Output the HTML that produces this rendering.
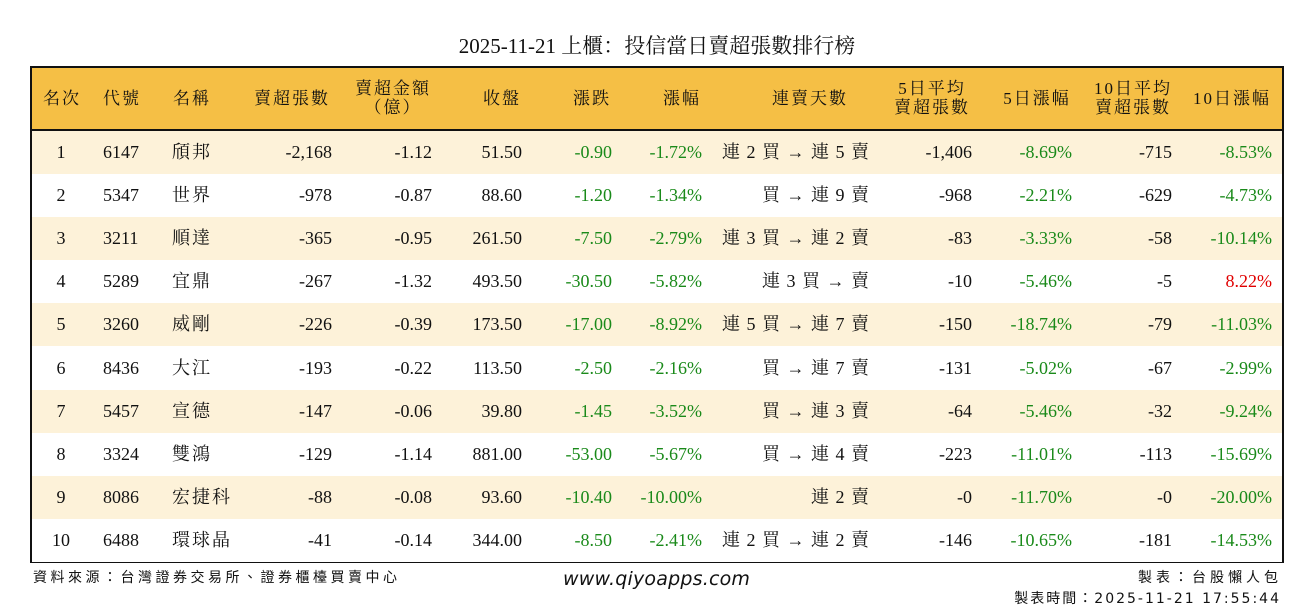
<!DOCTYPE html>
<html><head><meta charset="utf-8"><style>
body{margin:0;width:1314px;height:612px;background:#fff;position:relative;overflow:hidden;font-family:"Liberation Serif","Noto Serif CJK SC","Noto Serif CJK TC",serif;color:#111}
.t{position:absolute;white-space:nowrap}
#title{left:0;width:1314px;top:30px;text-align:center;font-size:21px}
#tbl{position:absolute;left:30px;top:66px;width:1250px;height:493px;border:2px solid #111}
#hdr{position:absolute;left:0;top:0;width:1250px;height:61px;background:#f5bf45;border-bottom:2px solid #111}
.row{position:absolute;left:0;width:1250px;height:43.1px}
.c{position:absolute;font-size:18px;line-height:43px;white-space:nowrap}
.h{position:absolute;font-size:17px;line-height:19px;white-space:nowrap;text-align:center;letter-spacing:2px}
.g{color:#1a8a1a}.r{color:#e00000}
.foot{position:absolute;font-family:"DejaVu Sans","Noto Sans CJK TC",sans-serif;font-size:14px;letter-spacing:3.5px}
</style></head><body>
<div class="t" id="title">2025-11-21 上櫃：投信當日賣超張數排行榜</div>
<div id="tbl">
<div id="hdr"></div>
</div>
<div class="foot" style="left:33px;top:567px">資料來源：台灣證券交易所、證券櫃檯買賣中心</div>
<div class="foot" style="left:563px;top:568px;font-size:19px;font-style:italic;letter-spacing:0.2px">www.qiyoapps.com</div>
<div class="foot" style="right:32px;top:567px;letter-spacing:4px">製表：台股懶人包</div>
<div class="foot" style="right:33px;top:588px;letter-spacing:2px">製表時間：2025-11-21 17:55:44</div>
<script>
const H=[["名次",62],["代號",122],["名稱",192],["賣超張數",292],["賣超金額<br>（億）",393],["收盤",502],["漲跌",592],["漲幅",682],["連賣天數",810],["5日平均<br>賣超張數",932],["5日漲幅",1037],["10日平均<br>賣超張數",1133],["10日漲幅",1232]];
const hdr=document.getElementById('hdr');
H.forEach(h=>{const d=document.createElement('div');d.className='h';d.innerHTML=h[0];d.style.left=(h[1]-32-70)+'px';d.style.width='140px';d.style.top=h[0].includes('<br>')?'11px':'21px';hdr.appendChild(d);});
const D=[
[1,6147,"頎邦","-2,168","-1.12","51.50","-0.90","-1.72%","連 2 買 → 連 5 賣","-1,406","-8.69%","-715","-8.53%"],
[2,5347,"世界","-978","-0.87","88.60","-1.20","-1.34%","買 → 連 9 賣","-968","-2.21%","-629","-4.73%"],
[3,3211,"順達","-365","-0.95","261.50","-7.50","-2.79%","連 3 買 → 連 2 賣","-83","-3.33%","-58","-10.14%"],
[4,5289,"宜鼎","-267","-1.32","493.50","-30.50","-5.82%","連 3 買 → 賣","-10","-5.46%","-5","8.22%"],
[5,3260,"威剛","-226","-0.39","173.50","-17.00","-8.92%","連 5 買 → 連 7 賣","-150","-18.74%","-79","-11.03%"],
[6,8436,"大江","-193","-0.22","113.50","-2.50","-2.16%","買 → 連 7 賣","-131","-5.02%","-67","-2.99%"],
[7,5457,"宣德","-147","-0.06","39.80","-1.45","-3.52%","買 → 連 3 賣","-64","-5.46%","-32","-9.24%"],
[8,3324,"雙鴻","-129","-1.14","881.00","-53.00","-5.67%","買 → 連 4 賣","-223","-11.01%","-113","-15.69%"],
[9,8086,"宏捷科","-88","-0.08","93.60","-10.40","-10.00%","連 2 賣","-0","-11.70%","-0","-20.00%"],
[10,6488,"環球晶","-41","-0.14","344.00","-8.50","-2.41%","連 2 買 → 連 2 賣","-146","-10.65%","-181","-14.53%"]];
const rights=[null,null,null,332,432,522,612,702,870,972,1072,1172,1272];
const tbl=document.getElementById('tbl');
D.forEach((r,i)=>{const row=document.createElement('div');row.className='row';row.style.top=(63+i*43.1)+'px';row.style.background=i%2==0?'#fdf2d9':'#fff';
 const add=(txt,style,cls)=>{const c=document.createElement('div');c.className='c '+(cls||'');c.textContent=txt;Object.assign(c.style,style);row.appendChild(c);};
 add(r[0],{left:(61-32-20)+'px',width:'40px',textAlign:'center'});
 add(r[1],{left:(103-32)+'px'});
 add(r[2],{left:(172-32)+'px',letterSpacing:'2px'});
 for(let k=3;k<13;k++){let cls='';if(k==6||k==7||k==10||k==12)cls=r[k].startsWith('-')?'g':'r';
  const st={right:(1282-rights[k])+'px'};if(k==8)st.letterSpacing='1px';
  add(r[k],st,cls);}
 tbl.appendChild(row);});
</script>
</body></html>
